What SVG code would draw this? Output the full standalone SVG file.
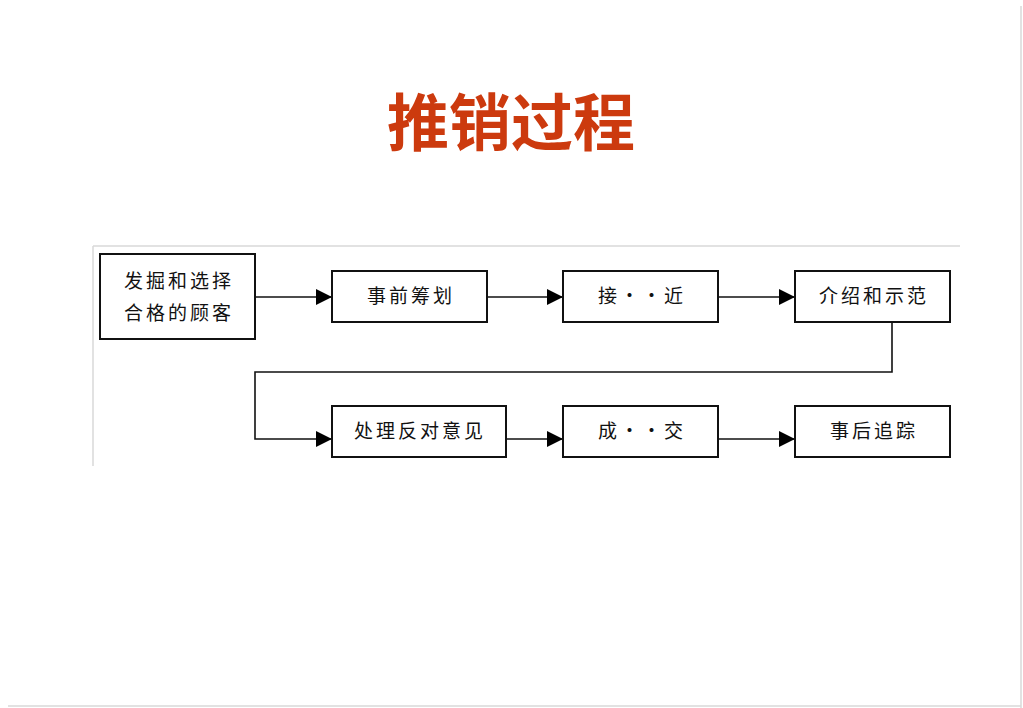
<svg xmlns="http://www.w3.org/2000/svg" width="1023" height="708" viewBox="0 0 1023 708">
<style>
.box{fill:#fff;stroke:#111;stroke-width:2}
.lbl{font-family:"Noto Sans CJK SC","Noto Sans CJK TC",sans-serif;font-size:19px;fill:#111;text-anchor:middle;letter-spacing:3px}
.con{fill:none;stroke:#111;stroke-width:1.6}
.frame{stroke:#d8d8d8;stroke-width:1.5;fill:none}
</style>
<defs>
<marker id="ah" markerWidth="16" markerHeight="16" refX="16" refY="8" orient="auto" markerUnits="userSpaceOnUse">
<path d="M0,0 L16,8 L0,16 Z" fill="#000"/>
</marker>
</defs>
<rect width="1023" height="708" fill="#fff"/>
<line class="frame" x1="1021" y1="6" x2="1021" y2="708" stroke="#999"/>
<line class="frame" x1="8" y1="706" x2="1021" y2="706"/>
<line class="frame" x1="93" y1="246" x2="93" y2="466"/>
<line class="frame" x1="93" y1="246" x2="960" y2="246" stroke="#eee"/>
<text x="511" y="146" font-family="'Noto Sans CJK SC',sans-serif" font-weight="bold" font-size="62" fill="#CC3A0E" text-anchor="middle">推销过程</text>
<g id="connectors">
<line class="con" x1="255" y1="297" x2="332" y2="297" marker-end="url(#ah)"/>
<line class="con" x1="487" y1="297" x2="563" y2="297" marker-end="url(#ah)"/>
<line class="con" x1="718" y1="297" x2="795" y2="297" marker-end="url(#ah)"/>
<polyline class="con" points="892,322 892,372 255,372 255,439 332,439" marker-end="url(#ah)"/>
<line class="con" x1="506" y1="439" x2="563" y2="439" marker-end="url(#ah)"/>
<line class="con" x1="718" y1="439" x2="795" y2="439" marker-end="url(#ah)"/>
</g>
<g id="n1"><rect class="box" x="100" y="254" width="155" height="85"/>
<text class="lbl" x="179" y="288">发掘和选择</text>
<text class="lbl" x="179" y="320">合格的顾客</text></g>
<g id="n2"><rect class="box" x="332" y="271" width="155" height="51"/>
<text class="lbl" x="411" y="303">事前筹划</text></g>
<g id="n3"><rect class="box" x="563" y="271" width="155" height="51"/>
<text class="lbl" x="642" y="303">接··近</text></g>
<g id="n4"><rect class="box" x="795" y="271" width="155" height="51"/>
<text class="lbl" x="874" y="303">介绍和示范</text></g>
<g id="n5"><rect class="box" x="332" y="406" width="174" height="51"/>
<text class="lbl" x="420" y="438">处理反对意见</text></g>
<g id="n6"><rect class="box" x="563" y="406" width="155" height="51"/>
<text class="lbl" x="642" y="438">成··交</text></g>
<g id="n7"><rect class="box" x="795" y="406" width="155" height="51"/>
<text class="lbl" x="874" y="438">事后追踪</text></g>
</svg>
